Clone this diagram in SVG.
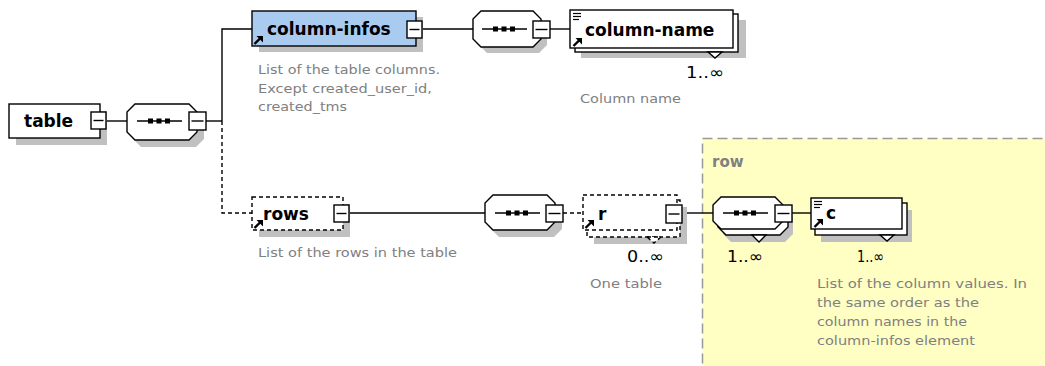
<svg xmlns="http://www.w3.org/2000/svg" width="1045" height="366" viewBox="0 0 1045 366">
<defs>
<style>
.bx{fill:#fff;stroke:#000;stroke-width:1.4}
.dx{fill:#fff;stroke:#000;stroke-width:1.4;stroke-dasharray:4 3}
.sh{fill:#c0c0c0}
.ln{stroke:#000;stroke-width:1.4;fill:none}
.dl{stroke:#000;stroke-width:1.4;fill:none;stroke-dasharray:4 3}
.nm{font-family:"DejaVu Sans",Verdana,sans-serif;font-weight:bold;font-size:17px;fill:#000}
.cm{font-family:"DejaVu Sans",Verdana,sans-serif;font-size:13px;fill:#808080}
.cd{font-family:"DejaVu Sans",Verdana,sans-serif;font-size:16px;fill:#000}
.ic{stroke:#000;stroke-width:1.2}
</style>
<g id="minus"><rect class="bx" x="0" y="0" width="15" height="17"/><line class="ln" x1="2.5" y1="8.5" x2="12.5" y2="8.5"/></g>
<g id="dots"><rect x="0" y="-2.5" width="5" height="5"/><rect x="8.5" y="-2.5" width="5" height="5"/><rect x="17" y="-2.5" width="5" height="5"/></g>
<g id="arr"><line x1="0.5" y1="8" x2="6" y2="2.5" stroke="#000" stroke-width="2.4"/><polygon points="2.5,0 9,0 9,6.5"/></g>
<g id="lines"><line class="ic" x1="0" y1="0.5" x2="8" y2="0.5"/><line class="ic" x1="0" y1="3.5" x2="8" y2="3.5"/><line class="ic" x1="0" y1="6.5" x2="6" y2="6.5"/></g>
</defs>
<rect width="1045" height="366" fill="#fff"/>

<g id="row-group">
<rect x="702.5" y="138.5" width="360" height="240" fill="#ffffc4" stroke="#999" stroke-width="1.5" stroke-dasharray="10 5"/>
<text x="712" y="167" font-family="DejaVu Sans,Verdana,sans-serif" font-weight="bold" font-size="15" fill="#808080">row</text>
</g>

<g id="connectors">
<line class="ln" x1="106" y1="121" x2="127" y2="121"/>
<line class="ln" x1="206" y1="121" x2="222" y2="121"/>
<polyline class="ln" points="222,121 222,29 252,29"/>
<polyline class="dl" points="222,121 222,213 252,213"/>
<line class="ln" x1="422" y1="29" x2="473" y2="29"/>
<line class="ln" x1="550" y1="29" x2="570" y2="29"/>
<line class="ln" x1="349" y1="213" x2="485" y2="213"/>
<line class="dl" x1="563" y1="213" x2="583" y2="213"/>
<line class="ln" x1="682" y1="213" x2="713" y2="213"/>
<line class="ln" x1="792" y1="213" x2="811" y2="213"/>
</g>

<g id="table">
<rect class="sh" x="16" y="111" width="91" height="34"/>
<rect class="bx" x="9" y="104" width="91" height="34"/>
<text class="nm" x="24" y="127">table</text>
<use href="#minus" x="91" y="112"/>
</g>

<g id="seq1">
<polygon class="sh" points="141,111 196,111 204,119 204,139 196,147 141,147 133,139 133,119"/>
<polygon class="bx" points="135,104 189,104 197,112 197,132 189,140 135,140 127,132 127,112"/>
<line class="ln" x1="137" y1="121" x2="182" y2="121"/>
<use href="#dots" x="148" y="121"/>
<rect class="bx" x="189" y="112" width="17" height="18"/><line class="ln" x1="191.5" y1="121" x2="203.5" y2="121"/>
</g>

<g id="column-infos">
<rect class="sh" x="259" y="17" width="164" height="35"/>
<rect x="252" y="11" width="164" height="35" fill="#aacbf0" stroke="#000" stroke-width="1.4"/>
<text class="nm" x="267" y="35">column-infos</text>
<use href="#arr" x="254" y="36"/>
<use href="#minus" x="407" y="21"/>
<text class="cm" x="258" y="74" textLength="182" lengthAdjust="spacingAndGlyphs">List of the table columns.</text>
<text class="cm" x="258" y="93" textLength="174" lengthAdjust="spacingAndGlyphs">Except created_user_id,</text>
<text class="cm" x="258" y="111" textLength="89" lengthAdjust="spacingAndGlyphs">created_tms</text>
</g>

<g id="seq2">
<polygon class="sh" points="487,17 539,17 547,25 547,45 539,53 487,53 479,45 479,25"/>
<polygon class="bx" points="481,11 533,11 541,19 541,39 533,47 481,47 473,39 473,19"/>
<line class="ln" x1="482" y1="29" x2="527" y2="29"/>
<use href="#dots" x="493" y="29"/>
<rect class="bx" x="533" y="21" width="17" height="17"/><line class="ln" x1="535.5" y1="29.5" x2="547.5" y2="29.5"/>
</g>

<g id="column-name">
<rect class="sh" x="581" y="20" width="165" height="38"/>
<rect class="bx" x="575" y="14" width="163" height="38"/>
<polygon class="bx" points="708,52 722,52 715,58"/>
<rect class="bx" x="570" y="10" width="163" height="38"/>
<use href="#lines" x="573" y="13"/>
<use href="#arr" x="573" y="38"/>
<text class="nm" x="585" y="36">column-name</text>
<text class="cd" x="686" y="78" textLength="38" lengthAdjust="spacingAndGlyphs">1..∞</text>
<text class="cm" x="580" y="103" textLength="101" lengthAdjust="spacingAndGlyphs">Column name</text>
</g>

<g id="rows">
<rect class="sh" x="259" y="204" width="91" height="33"/>
<rect class="dx" x="252" y="197" width="91" height="33"/>
<text class="nm" x="263" y="220">rows</text>
<use href="#arr" x="254" y="220"/>
<use href="#minus" x="334" y="205"/>
<text class="cm" x="258" y="257" textLength="199" lengthAdjust="spacingAndGlyphs">List of the rows in the table</text>
</g>

<g id="seq3">
<polygon class="sh" points="499,202 554,202 562,210 562,229 554,237 499,237 491,229 491,210"/>
<polygon class="bx" points="493,195 547,195 555,203 555,222 547,230 493,230 485,222 485,203"/>
<line class="ln" x1="495" y1="213" x2="540" y2="213"/>
<use href="#dots" x="506" y="213"/>
<rect class="bx" x="546" y="205" width="17" height="17"/><line class="ln" x1="548.5" y1="213.5" x2="560.5" y2="213.5"/>
</g>

<g id="r">
<rect class="sh" x="594" y="207" width="93" height="37"/>
<rect class="dx" x="587" y="200" width="93" height="37"/>
<polygon class="dx" points="647,237 661,237 654,243"/>
<rect class="dx" x="583" y="195" width="94" height="35"/>
<text class="nm" x="598" y="220">r</text>
<use href="#arr" x="585" y="220"/>
<rect class="bx" x="666" y="205" width="16" height="18"/><line class="ln" x1="668.5" y1="214" x2="679.5" y2="214"/>
<text class="cd" x="627" y="262" textLength="37" lengthAdjust="spacingAndGlyphs">0..∞</text>
<text class="cm" x="590" y="288" textLength="72" lengthAdjust="spacingAndGlyphs">One table</text>
</g>

<g id="seq4">
<polygon class="sh" points="731,209 785,209 793,217 793,234 785,242 731,242 723,234 723,217"/>
<polygon class="bx" points="726,203 780,203 788,211 788,227 780,235 726,235 718,227 718,211"/>
<polygon class="bx" points="752,235 766,235 759,242"/>
<polygon class="bx" points="721,197 775,197 783,205 783,221 775,229 721,229 713,221 713,205"/>
<line class="ln" x1="723" y1="213" x2="768" y2="213"/>
<use href="#dots" x="734" y="213"/>
<rect class="bx" x="775" y="205" width="17" height="17"/><line class="ln" x1="777.5" y1="213.5" x2="789.5" y2="213.5"/>
<text class="cd" x="727" y="262" textLength="36" lengthAdjust="spacingAndGlyphs">1..∞</text>
</g>

<g id="c">
<rect class="sh" x="821" y="210" width="91" height="32"/>
<rect class="bx" x="815" y="203" width="92" height="32"/>
<polygon class="bx" points="880,235 894,235 887,241"/>
<rect class="bx" x="811" y="198" width="91" height="31"/>
<use href="#lines" x="814" y="201"/>
<use href="#arr" x="814" y="219"/>
<text class="nm" x="826" y="219">c</text>
<text class="cd" x="857" y="262" textLength="27" lengthAdjust="spacingAndGlyphs">1..∞</text>
<text class="cm" x="817" y="288" textLength="210" lengthAdjust="spacingAndGlyphs">List of the column values. In</text>
<text class="cm" x="817" y="307" textLength="162" lengthAdjust="spacingAndGlyphs">the same order as the</text>
<text class="cm" x="817" y="326" textLength="150" lengthAdjust="spacingAndGlyphs">column names in the</text>
<text class="cm" x="817" y="345" textLength="158" lengthAdjust="spacingAndGlyphs">column-infos element</text>
</g>
</svg>
